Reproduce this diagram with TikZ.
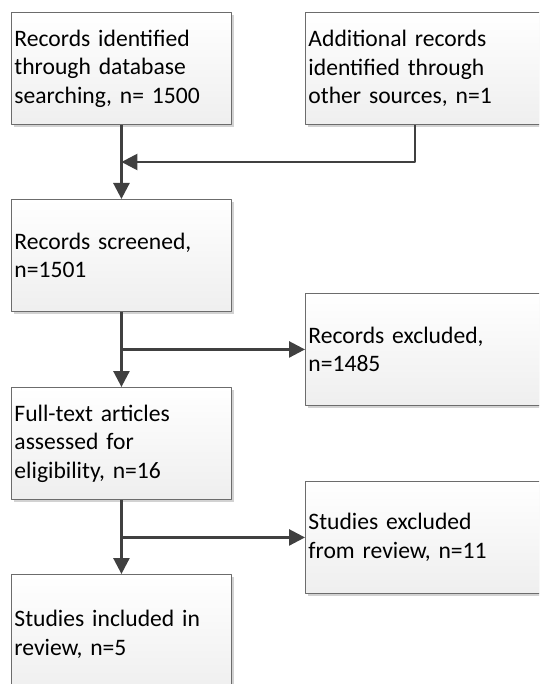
\documentclass[tikz,border=0pt]{standalone}
\usepackage{fontspec}
\setmainfont{Carlito}
\usetikzlibrary{arrows.meta,shadows}
\begin{document}
\begin{tikzpicture}[x=1pt,y=-1pt,line join=round,
	font=\fontsize{23.6}{28.6}\selectfont,
	box/.style={draw=gray!85!black,line width=0.9pt,rectangle,anchor=north west,
		top color=white,bottom color=gray!13,
		drop shadow={shadow xshift=2.5pt,shadow yshift=-2.5pt,fill=gray!35,opacity=1},
		inner xsep=3pt,align=left,text width=#1-6pt,minimum width=#1,minimum height=112pt},
	box/.default=220pt,
	arr/.style={draw=black!75,line width=2.6pt,-{Triangle[length=16pt,width=16pt]}}]
			% --- Khung hình ---
			\clip (0,0) rectangle (539,684);
			% --- Các ô ---
			\node[box] (ident) at (11,12) {Records identified\\through database\\searching, n= 1500};
			\node[box=250pt] (other) at (305,12) {Additional records\\identified through\\other sources, n=1};
			\node[box] (screen) at (11,199) {Records screened,\\n=1501};
			\node[box=250pt] (excl) at (305,293) {Records excluded,\\n=1485};
			\node[box] (full) at (11,387) {Full-text articles\\assessed for\\eligibility, n=16};
			\node[box=250pt] (studexcl) at (305,481) {Studies excluded\\from review, n=11};
			\node[box,minimum height=120pt] (incl) at (11,574) {Studies included in\\review, n=5};
			% --- Mũi tên ---
			\coordinate (join) at (ident.south |- 0,162);
			\draw[arr] ([xshift=110pt]other.south west) |- (join);
			\draw[arr] (ident.south) -- (screen.north);
			\draw[arr] (screen.south) -- (full.north);
			\draw[arr] (screen.south |- excl.west) -- (excl.west);
			\draw[arr] (full.south) -- (incl.north);
			\draw[arr] (full.south |- studexcl.west) -- (studexcl.west);
		\end{tikzpicture}
\end{document}
